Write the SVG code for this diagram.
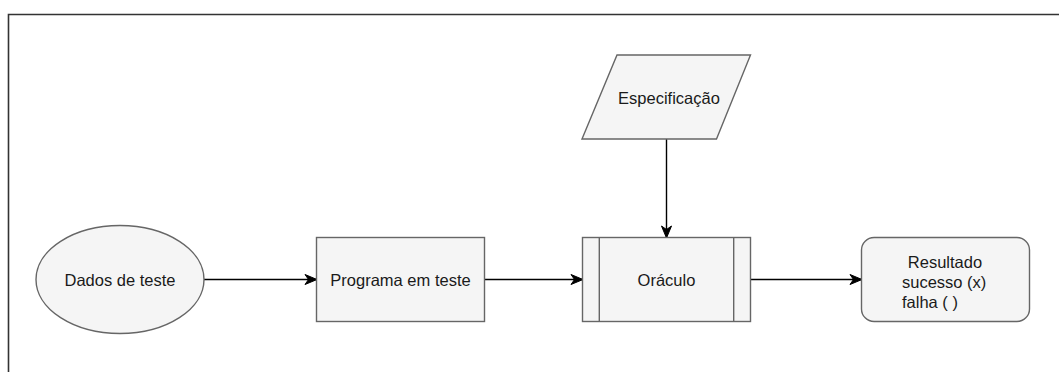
<svg xmlns="http://www.w3.org/2000/svg" width="1059" height="372" viewBox="0 0 1059 372">
  <style>
    .shape { fill: #f5f5f5; stroke: #666666; stroke-width: 1.4; }
    .label { font-family: "Liberation Sans", Arial, sans-serif; font-size: 16.5px; fill: #1a1a1a; }
    .mid { text-anchor: middle; dominant-baseline: central; }
    .edge { fill: none; stroke: #000000; stroke-width: 1.4; }
    .frame { fill: none; stroke: #333333; stroke-width: 1.6; }
  </style>
  <defs>
    <marker id="arrow" markerUnits="userSpaceOnUse" markerWidth="14" markerHeight="12" refX="12" refY="6" orient="auto">
      <path d="M1,1 L13,6 L1,11 L4.5,6 Z" fill="#000000" stroke="#000000" stroke-width="1"/>
    </marker>
  </defs>

  <rect width="1059" height="372" fill="#ffffff"/>

  <!-- page frame (top and left edges) -->
  <path class="frame" d="M8.5,372 L8.5,14.5 L1059,14.5"/>

  <!-- connectors -->
  <g id="connectors">
    <line class="edge" x1="204" y1="279.5" x2="316" y2="279.5" marker-end="url(#arrow)"/>
    <line class="edge" x1="484.5" y1="279.5" x2="582" y2="279.5" marker-end="url(#arrow)"/>
    <line class="edge" x1="750.5" y1="279.5" x2="861" y2="279.5" marker-end="url(#arrow)"/>
    <line class="edge" x1="666.5" y1="139" x2="666.5" y2="237" marker-end="url(#arrow)"/>
  </g>

  <!-- test data -->
  <g id="dados">
    <ellipse class="shape" cx="120" cy="279.5" rx="84" ry="54"/>
    <text class="label mid" x="120" y="280">Dados de teste</text>
  </g>

  <!-- program under test -->
  <g id="programa">
    <rect class="shape" x="316.5" y="237.5" width="168" height="84"/>
    <text class="label mid" x="400.5" y="280">Programa em teste</text>
  </g>

  <!-- oracle (predefined process) -->
  <g id="oraculo">
    <rect class="shape" x="582.5" y="237.5" width="168" height="84"/>
    <line class="shape" x1="599.3" y1="237.5" x2="599.3" y2="321.5"/>
    <line class="shape" x1="733.7" y1="237.5" x2="733.7" y2="321.5"/>
    <text class="label mid" x="666.5" y="280">Oráculo</text>
  </g>

  <!-- specification (data input) -->
  <g id="especificacao">
    <polygon class="shape" points="617,55 750.5,55 716.5,139 582,139"/>
    <text class="label mid" x="669" y="98">Especificação</text>
  </g>

  <!-- result -->
  <g id="resultado">
    <rect class="shape" x="861.5" y="237.5" width="168" height="84" rx="12.6" ry="12.6"/>
    <text class="label" x="945" y="267.5" text-anchor="middle">Resultado</text>
    <text class="label" x="902" y="287.5">sucesso (x)</text>
    <text class="label" x="902" y="307.5">falha ( )</text>
  </g>
</svg>
